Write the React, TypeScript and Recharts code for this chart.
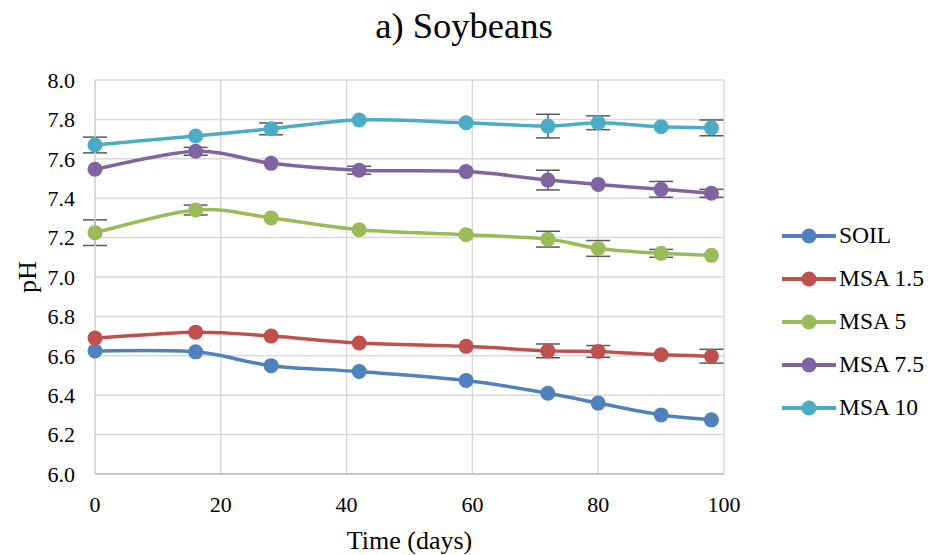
import React from 'react';
import { LineChart, Line, XAxis, YAxis, CartesianGrid, ErrorBar } from 'recharts';

const days = [0, 16, 28, 42, 59, 72, 80, 90, 98];

const soil = [6.625, 6.62, 6.55, 6.52, 6.475, 6.41, 6.36, 6.3, 6.275];
const msa15 = [6.69, 6.72, 6.7, 6.665, 6.648, 6.625, 6.622, 6.605, 6.598];
const msa5 = [7.225, 7.34, 7.3, 7.24, 7.215, 7.192, 7.145, 7.12, 7.11];
const msa75 = [7.547, 7.638, 7.577, 7.542, 7.535, 7.492, 7.47, 7.445, 7.425];
const msa10 = [7.67, 7.716, 7.752, 7.797, 7.783, 7.766, 7.783, 7.763, 7.757];

// standard deviations (error bars); null where the bar is hidden by the marker
const soilErr = [null, null, null, null, null, null, null, null, null];
const msa15Err = [null, null, null, null, null, 0.035, 0.03, null, 0.035];
const msa5Err = [0.065, 0.025, null, null, null, 0.04, 0.04, 0.02, null];
const msa75Err = [null, 0.02, null, 0.02, null, 0.05, null, 0.04, 0.02];
const msa10Err = [0.04, null, 0.03, null, null, 0.06, 0.035, null, 0.04];

const xTicks = [0, 20, 40, 60, 80, 100];
const yTicks = [6.0, 6.2, 6.4, 6.6, 6.8, 7.0, 7.2, 7.4, 7.6, 7.8, 8.0];

const series = [
  { key: 'soil', name: 'SOIL', color: '#4F81BD', values: soil, err: soilErr },
  { key: 'msa15', name: 'MSA 1.5', color: '#C0504D', values: msa15, err: msa15Err },
  { key: 'msa5', name: 'MSA 5', color: '#9BBB59', values: msa5, err: msa5Err },
  { key: 'msa75', name: 'MSA 7.5', color: '#8064A2', values: msa75, err: msa75Err },
  { key: 'msa10', name: 'MSA 10', color: '#4BACC6', values: msa10, err: msa10Err },
];

const data = days.map((d, i) => {
  const row: any = { day: d };
  series.forEach(s => {
    row[s.key] = s.values[i];
    row[s.key + 'Err'] = s.err[i];
  });
  return row;
});

// Excel-like smoothed line (Catmull-Rom through the points)
const smooth = (context: any) => {
  let pts: number[][] = [];
  return {
    areaStart() {},
    areaEnd() {},
    lineStart() { pts = []; },
    point(x: number, y: number) { pts.push([+x, +y]); },
    lineEnd() {
      if (!pts.length) return;
      context.moveTo(pts[0][0], pts[0][1]);
      for (let i = 0; i < pts.length - 1; i++) {
        const p0 = pts[i - 1] || pts[i];
        const p1 = pts[i];
        const p2 = pts[i + 1];
        const p3 = pts[i + 2] || p2;
        context.bezierCurveTo(
          p1[0] + (p2[0] - p0[0]) / 6, p1[1] + (p2[1] - p0[1]) / 6,
          p2[0] - (p3[0] - p1[0]) / 6, p2[1] - (p3[1] - p1[1]) / 6,
          p2[0], p2[1]
        );
      }
    },
  };
};

const font = "'Liberation Serif', 'Times New Roman', serif";
const tickStyle = { fill: '#000', fontSize: 22, fontFamily: font, style: { fontFamily: font } };

export default function App() {
  return (
    <div style={{ position: 'absolute', left: 0, top: 0, width: 931, height: 555, background: '#fff', fontFamily: font }}>
      <div style={{ position: 'absolute', left: 0, top: 4, width: 928, textAlign: 'center', fontSize: 36.5, color: '#000', fontFamily: font }}>
        a) Soybeans
      </div>
      <div style={{ position: 'absolute', left: 781, top: 214, fontFamily: font, fontSize: 23.5, color: '#000' }}>
        {series.map(s => (
          <div key={s.key} style={{ display: 'flex', alignItems: 'center', height: 43 }}>
            <svg width={58} height={20}>
              <line x1={1} y1={10} x2={55} y2={10} stroke={s.color} strokeWidth={4} />
              <circle cx={28} cy={10} r={7.5} fill={s.color} />
            </svg>
            <span>{s.name}</span>
          </div>
        ))}
      </div>
      <LineChart width={931} height={555} data={data} margin={{ top: 80, right: 207, bottom: 0, left: 0 }} style={{ fontFamily: font }}>
        <CartesianGrid stroke="#D9D9D9" strokeWidth={1.5} horizontalValues={yTicks} verticalValues={xTicks} />
        <XAxis
          dataKey="day"
          type="number"
          domain={[0, 100]}
          ticks={xTicks}
          height={81}
          tickSize={0}
          tickMargin={22}
          axisLine={{ stroke: '#BFBFBF', strokeWidth: 1.5 }}
          tick={tickStyle}
          label={{ value: 'Time (days)', position: 'insideBottom', offset: 6, fill: '#000', fontSize: 26, fontFamily: font }}
        />
        <YAxis
          type="number"
          domain={[6, 8]}
          ticks={yTicks}
          width={95}
          tickSize={0}
          tickMargin={20}
          interval={0}
          tickFormatter={(v: number) => v.toFixed(1)}
          axisLine={{ stroke: '#D9D9D9', strokeWidth: 1.5 }}
          tick={tickStyle}
          label={{ value: 'pH', angle: -90, position: 'insideLeft', offset: 27, fill: '#000', fontSize: 26, fontFamily: font, style: { textAnchor: 'middle' } }}
        />
        {series.map(s => (
          <Line
            key={s.key}
            dataKey={s.key}
            name={s.name}
            type={smooth as any}
            stroke={s.color}
            strokeWidth={3.5}
            dot={false}
            activeDot={false}
            isAnimationActive={false}
          >
            <ErrorBar dataKey={s.key + 'Err'} direction="y" width={12} stroke="#595959" strokeWidth={1.5} {...({ zIndex: 350 } as any)} />
          </Line>
        ))}
        {/* markers drawn on top of the error bars, as in the original */}
        {series.map(s => (
          <Line
            key={s.key + '-dots'}
            dataKey={s.key}
            legendType="none"
            stroke="none"
            strokeWidth={0}
            dot={{ r: 7.5, fill: s.color, stroke: s.color, strokeWidth: 0 }}
            activeDot={false}
            isAnimationActive={false}
            {...({ zIndex: 700 } as any)}
          />
        ))}
      </LineChart>
    </div>
  );
}
